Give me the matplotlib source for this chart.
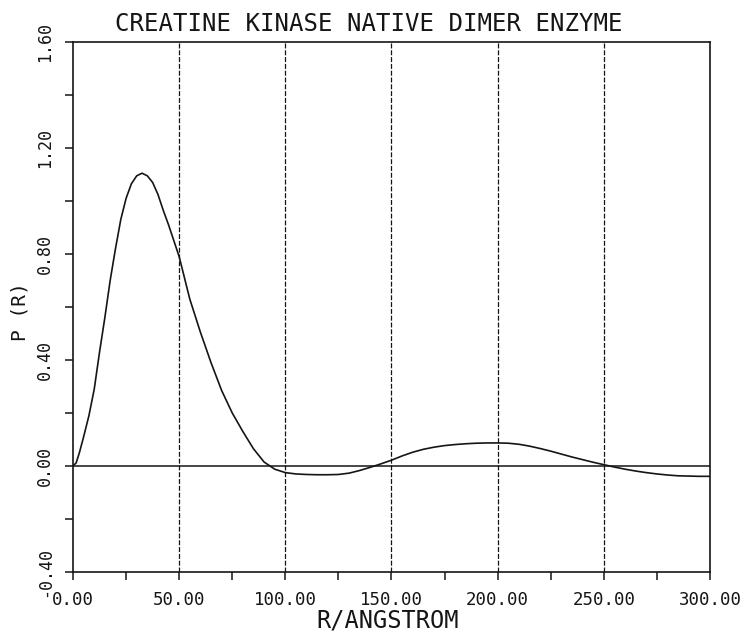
import numpy as np
import matplotlib
matplotlib.use('Agg')
import matplotlib.pyplot as plt

plt.rcParams['font.family'] = 'DejaVu Sans Mono'
plt.rcParams['axes.unicode_minus'] = False
plt.rcParams['lines.scale_dashes'] = False

# DATA
R = [0, 1.5, 3, 5, 7.5, 10, 12.5, 15, 17.5, 20, 22.5, 25, 27.5, 30, 32.5, 35, 37.5,
     40, 42.5, 45, 47.5, 50, 55, 60, 65, 70, 75, 80, 85, 90, 95, 100, 105, 110,
     115, 120, 125, 130, 135, 140, 145, 150, 155, 160, 165, 170, 175, 180, 185,
     190, 195, 200, 205, 210, 215, 220, 225, 230, 235, 240, 245, 250, 255, 260,
     265, 270, 275, 280, 285, 290, 295, 300]
P = [0.0, 0.012, 0.05, 0.11, 0.19, 0.29, 0.43, 0.56, 0.70, 0.82, 0.93, 1.01, 1.065,
     1.095, 1.105, 1.095, 1.07, 1.025, 0.965, 0.91, 0.85, 0.79, 0.63, 0.505,
     0.39, 0.285, 0.20, 0.13, 0.065, 0.015, -0.012, -0.025, -0.03, -0.032,
     -0.033, -0.033, -0.032, -0.027, -0.017, -0.005, 0.008, 0.022, 0.038,
     0.052, 0.063, 0.071, 0.077, 0.081, 0.084, 0.086, 0.087, 0.087, 0.086,
     0.082, 0.075, 0.066, 0.056, 0.045, 0.034, 0.024, 0.014, 0.005, -0.004,
     -0.012, -0.019, -0.025, -0.030, -0.034, -0.037, -0.038, -0.039, -0.039]

grid_x = [50, 100, 150, 200, 250]
x_ticks = [0, 25, 50, 75, 100, 125, 150, 175, 200, 225, 250, 275, 300]
x_labels = ['0.00', '', '50.00', '', '100.00', '', '150.00', '', '200.00', '',
            '250.00', '', '300.00']
y_ticks = [-0.4, -0.2, 0.0, 0.2, 0.4, 0.6, 0.8, 1.0, 1.2, 1.4, 1.6]
y_labels = ['-0.40', '', '0.00', '', '0.40', '', '0.80', '', '1.20', '', '1.60']

TITLE = 'CREATINE KINASE NATIVE DIMER ENZYME'
INK = '#151515'

W, H = 755, 631
fig = plt.figure(figsize=(W / 100, H / 100), dpi=100)
ax = fig.add_axes([73 / W, (H - 572) / H, (710 - 73) / W, (572 - 42) / H])

# dashed verticals + zero line + P(R) curve
for gx in grid_x:
    ax.axvline(gx, color=INK, lw=0.9, dashes=(3.6, 1.3), zorder=1)
ax.axhline(0, color=INK, lw=1.1, zorder=2)
ax.plot(R, P, color=INK, lw=1.2, zorder=3)

ax.set_xlim(0, 300)
ax.set_ylim(-0.4, 1.6)
ax.set_xticks(x_ticks)
ax.set_xticklabels(x_labels, fontsize=12.5)
ax.set_yticks(y_ticks)
ax.set_yticklabels(y_labels, fontsize=12, rotation=90)
for lab in ax.get_yticklabels():
    lab.set_va('center')

ax.tick_params(axis='x', direction='out', length=5.5, width=1.1, pad=8, colors=INK)
ax.tick_params(axis='y', direction='out', length=5.5, width=1.1, pad=8, colors=INK)
for sp in ax.spines.values():
    sp.set_linewidth(1.2)
    sp.set_color(INK)

fig.text(369 / W, 1 - 24 / H, TITLE, ha='center', va='center', fontsize=17.3, color=INK)
fig.text(388 / W, 1 - 620 / H, 'R/ANGSTROM', ha='center', va='center', fontsize=17, color=INK)
fig.text(20 / W, 1 - 312 / H, 'P (R)', ha='center', va='center', rotation=90,
         fontsize=14, color=INK)

fig.savefig('out.png', dpi=100)
